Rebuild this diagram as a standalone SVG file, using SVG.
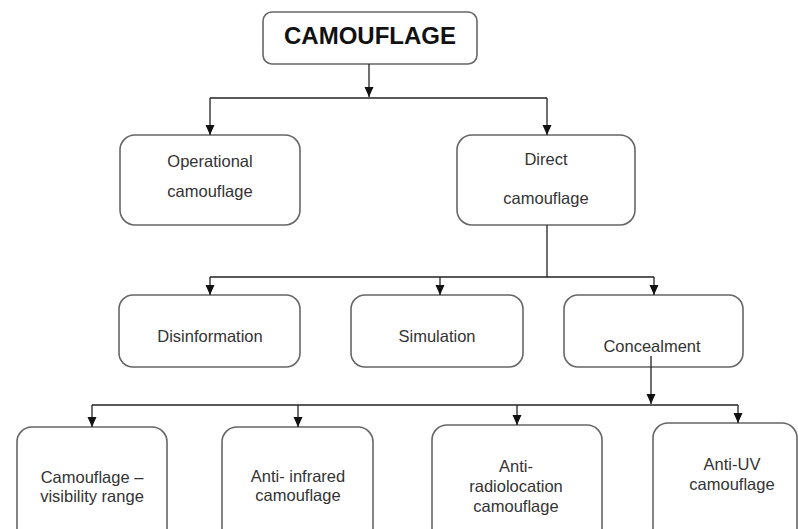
<svg xmlns="http://www.w3.org/2000/svg" width="798" height="529" viewBox="0 0 798 529">
<defs>
<marker id="ah" markerUnits="userSpaceOnUse" markerWidth="10" markerHeight="10" refX="10" refY="5" orient="auto">
<path d="M0,0.5 L10,5 L0,9.5 z" fill="#111"/>
</marker>
<style>
.box{fill:#fff;stroke:#666;stroke-width:1.6}
.t{font-family:"Liberation Sans",Arial,sans-serif;font-size:16.5px;fill:#333;text-anchor:middle}
.tb{font-family:"Liberation Sans",Arial,sans-serif;font-size:24px;font-weight:bold;fill:#111;text-anchor:middle}
.ln{fill:none;stroke:#222;stroke-width:1.3}
.arr{fill:none;stroke:#222;stroke-width:1.3;marker-end:url(#ah)}
</style>
</defs>
<rect width="798" height="529" fill="#fff"/>
<g id="camouflage">
<rect class="box" x="263" y="12" width="214" height="52" rx="9"/>
<text class="tb" x="370" y="44">CAMOUFLAGE</text>
</g>
<g id="operational">
<rect class="box" x="120" y="135" width="180" height="90" rx="15"/>
<text class="t" x="210" y="167">Operational</text>
<text class="t" x="210" y="197">camouflage</text>
</g>
<g id="direct">
<rect class="box" x="457" y="135" width="178" height="90" rx="15"/>
<text class="t" x="546" y="165">Direct</text>
<text class="t" x="546" y="204">camouflage</text>
</g>
<g id="disinformation">
<rect class="box" x="119" y="295" width="181" height="72" rx="14"/>
<text class="t" x="210" y="342">Disinformation</text>
</g>
<g id="simulation">
<rect class="box" x="351" y="295" width="172" height="72" rx="14"/>
<text class="t" x="437" y="342">Simulation</text>
</g>
<g id="concealment">
<rect class="box" x="564" y="295" width="179" height="72" rx="14"/>
<text class="t" x="652" y="352">Concealment</text>
</g>
<g id="visibility">
<rect class="box" x="17" y="427" width="150" height="120" rx="15"/>
<text class="t" x="92" y="483">Camouflage –</text>
<text class="t" x="92" y="502">visibility range</text>
</g>
<g id="infrared">
<rect class="box" x="222" y="427" width="151" height="120" rx="15"/>
<text class="t" x="298" y="482">Anti- infrared</text>
<text class="t" x="298" y="501">camouflage</text>
</g>
<g id="radiolocation">
<rect class="box" x="432" y="425" width="170" height="120" rx="15"/>
<text class="t" x="516" y="472">Anti-</text>
<text class="t" x="516" y="492">radiolocation</text>
<text class="t" x="516" y="512">camouflage</text>
</g>
<g id="antiuv">
<rect class="box" x="653" y="423" width="144" height="120" rx="15"/>
<text class="t" x="732" y="470">Anti-UV</text>
<text class="t" x="732" y="490">camouflage</text>
</g>
<g id="connectors">
<path class="arr" d="M369,64 V97"/>
<path class="ln" d="M210,98 H547"/>
<path class="arr" d="M210,98 V135"/>
<path class="arr" d="M547,98 V135"/>
<path class="ln" d="M547,225 V277"/>
<path class="ln" d="M210,277 H654"/>
<path class="arr" d="M210,277 V295"/>
<path class="arr" d="M440,277 V295"/>
<path class="arr" d="M654,277 V295"/>
<path class="arr" d="M651,356 V404"/>
<path class="ln" d="M92,405 H738"/>
<path class="arr" d="M92,405 V427"/>
<path class="arr" d="M298,405 V427"/>
<path class="arr" d="M517,405 V425"/>
<path class="arr" d="M738,405 V423"/>
</g>
</svg>
